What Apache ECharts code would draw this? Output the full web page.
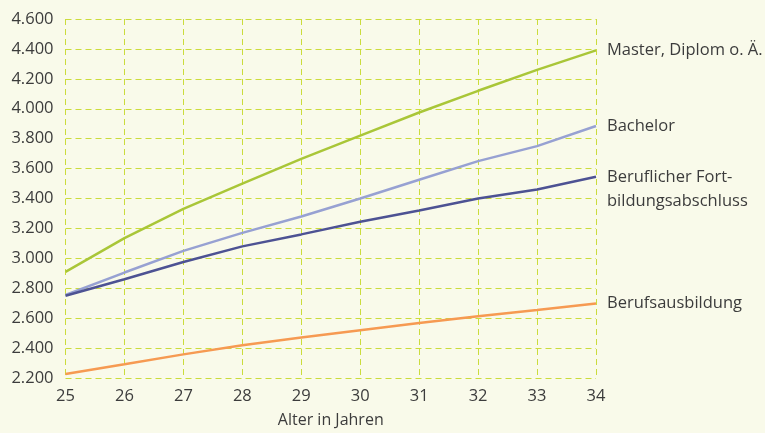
<!DOCTYPE html>
<html><head><meta charset="utf-8">
<script src="https://cdn.jsdelivr.net/npm/echarts@6/dist/echarts.min.js"></script>
<style>html,body{margin:0;padding:0;background:#f9faea;}#c{width:765px;height:433px;}</style>
</head><body><div id="c"></div>
<script>
const ages = [25, 26, 27, 28, 29, 30, 31, 32, 33, 34];
const master = [2910, 3135, 3330, 3500, 3665, 3820, 3975, 4120, 4260, 4390];
const bachelor = [2755, 2905, 3050, 3170, 3280, 3400, 3525, 3650, 3750, 3885];
const fortbildung = [2750, 2860, 2975, 3080, 3160, 3245, 3320, 3400, 3460, 3545];
const ausbildung = [2227, 2292, 2358, 2419, 2470, 2519, 2568, 2613, 2655, 2698];
const names = ['Master, Diplom o. Ä.', 'Bachelor', 'Beruflicher Fort-\nbildungsabschluss', 'Berufsausbildung'];
const colors = ['#a9c638', '#97a1d2', '#4d5293', '#f69a52'];
const yMin = 2200, yMax = 4600, yStep = 200;
const xAxisName = 'Alter in Jahren';

const font = 'Open Sans';
const txt = '#3c3c3c';
const fmt = v => String(v).replace(/\B(?=(\d{3})+(?!\d))/g, '.');
const allSeries = [master, bachelor, fortbildung, ausbildung];
const offsets = [[0,0],[0,0],[0,12],[0,0]];

const chart = echarts.init(document.getElementById('c'), null, {renderer: 'canvas'});
chart.setOption({
  backgroundColor: '#f9faea',
  animation: false,
  grid: {left: 65.5, right: 169, top: 19, bottom: 55},
  xAxis: {
    type: 'value', min: 25, max: 34, interval: 1,
    name: xAxisName, nameLocation: 'middle', nameGap: 34,
    nameTextStyle: {color: txt, fontSize: 16, fontFamily: font},
    axisLine: {show: false}, axisTick: {show: false},
    axisLabel: {color: txt, fontSize: 16.5, fontFamily: font, margin: 10},
    splitLine: {show: true, lineStyle: {color: '#cbdc3c', type: [6, 4], width: 1}}
  },
  yAxis: {
    type: 'value', min: yMin, max: yMax, interval: yStep,
    axisLine: {show: false}, axisTick: {show: false},
    axisLabel: {color: txt, fontSize: 16.5, fontFamily: font, margin: 12, formatter: fmt},
    splitLine: {show: true, lineStyle: {color: '#cbdc3c', type: [6, 4], width: 1}}
  },
  series: allSeries.map((d, i) => ({
    type: 'line', name: names[i],
    data: d.map((v, j) => [ages[j], v]),
    symbol: 'none',
    lineStyle: {color: colors[i], width: 2.5},
    itemStyle: {color: colors[i]},
    endLabel: {
      show: true, formatter: names[i], distance: 11,
      color: txt, fontSize: 16.5, fontFamily: font, lineHeight: 24,
      offset: offsets[i]
    }
  }))
});
</script></body></html>
